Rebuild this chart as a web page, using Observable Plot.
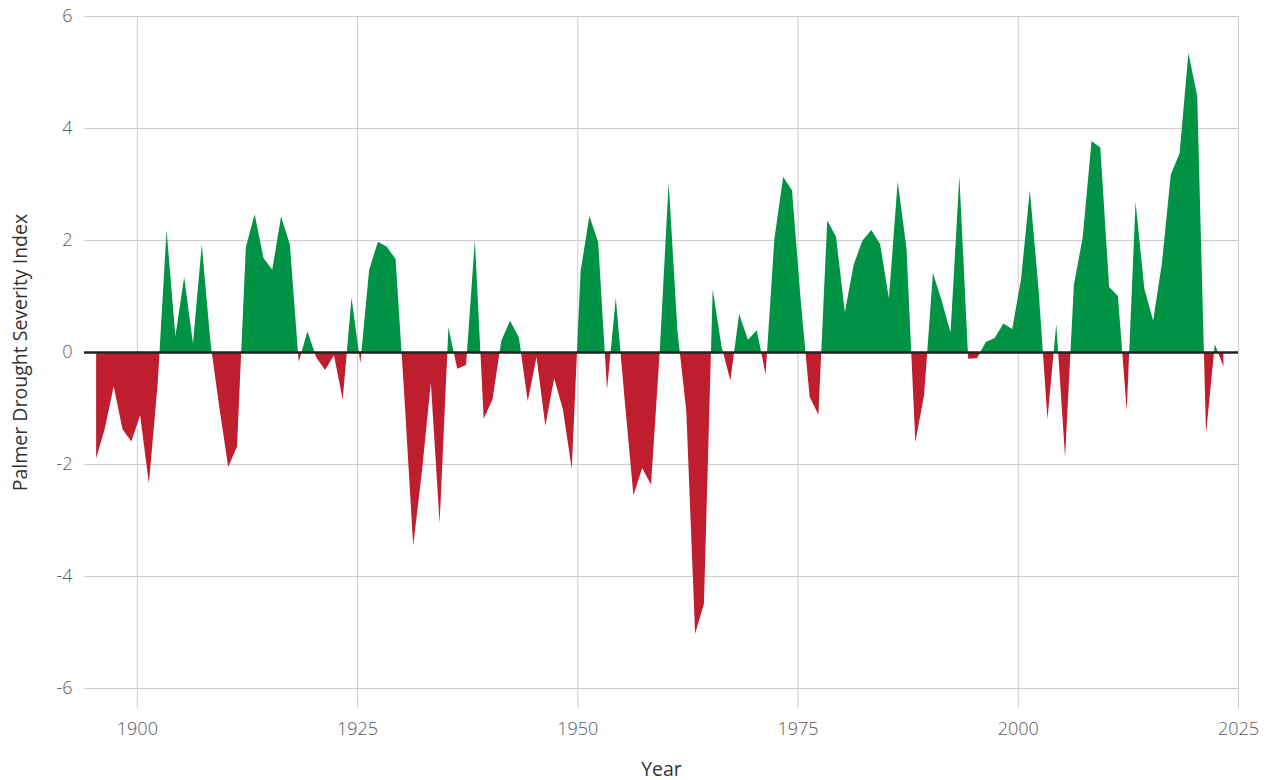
<!DOCTYPE html>
<html>
<head>
<meta charset="utf-8">
<script src="https://cdn.jsdelivr.net/npm/d3@7"></script>
<script src="https://cdn.jsdelivr.net/npm/@observablehq/plot@0.6"></script>
<style>
  html, body { margin: 0; padding: 0; background: #fff; }
  #chart svg { display: block; }
  #chart g[aria-label$="tick label"] text { font-weight: 300; }
</style>
</head>
<body>
<div id="chart"></div>
<script>
const startYear = 1895;
const pdsi = [
  -1.90, -1.36, -0.61, -1.38, -1.60, -1.13, -2.35, -0.55, 2.18, 0.28,
  1.34, 0.15, 1.92, 0.15, -1.00, -2.05, -1.69, 1.87, 2.46, 1.68,
  1.47, 2.42, 1.92, -0.18, 0.37, -0.10, -0.32, -0.06, -0.85, 0.97,
  -0.20, 1.47, 1.97, 1.88, 1.66, -0.80, -3.46, -2.12, -0.55, -3.06,
  0.44, -0.30, -0.23, 2.00, -1.19, -0.85, 0.20, 0.56, 0.26, -0.88,
  -0.09, -1.32, -0.47, -1.03, -2.09, 1.44, 2.43, 1.96, -0.67, 0.97,
  -0.85, -2.56, -2.07, -2.37, 0.05, 3.03, 0.37, -1.05, -5.03, -4.50,
  1.12, 0.10, -0.51, 0.68, 0.22, 0.39, -0.40, 2.02, 3.13, 2.89,
  0.90, -0.80, -1.12, 2.35, 2.06, 0.71, 1.56, 1.99, 2.18, 1.93,
  0.96, 3.05, 1.85, -1.61, -0.76, 1.41, 0.91, 0.35, 3.14, -0.12,
  -0.11, 0.18, 0.25, 0.51, 0.41, 1.30, 2.89, 1.10, -1.20, 0.50,
  -1.88, 1.20, 2.05, 3.77, 3.65, 1.16, 1.00, -1.05, 2.68, 1.13,
  0.56, 1.60, 3.17, 3.55, 5.34, 4.57, -1.46, 0.14, -0.27
];
const years = pdsi.map((_, i) => startYear + i);
const xTicks = [1900, 1925, 1950, 1975, 2000, 2025];
const yTicks = [-6, -4, -2, 0, 2, 4, 6];
const xTitle = "Year";
const yTitle = "Palmer Drought Severity Index";

const data = years.map((year, i) => ({year, value: pdsi[i]}));

// readings are plotted part-way into each year (mid-May)
const withinYear = 0.37;

const positiveColor = "#009245";
const negativeColor = "#be1e2d";
const gridColor = "#cccccc";

const areaMark = Plot.differenceY
  ? Plot.differenceY(data, {
      x: d => d.year + withinYear, y: "value",
      positiveFill: positiveColor, negativeFill: negativeColor,
      positiveFillOpacity: 1, negativeFillOpacity: 1,
      stroke: "none"
    })
  : Plot.areaY(data, {x: d => d.year + withinYear, y: "value", fill: positiveColor});

const chart = Plot.plot({
  width: 1270,
  height: 780,
  marginLeft: 84,
  marginRight: 32,
  marginTop: 16,
  marginBottom: 92,
  style: {fontFamily: "'Open Sans', 'Noto Sans', sans-serif", fontSize: "18px", color: "#595959", background: "#fff"},
  x: {domain: [1894, 2025], label: null},
  y: {domain: [-6, 6], label: null},
  marks: [
    Plot.gridY(yTicks, {stroke: gridColor, strokeOpacity: 1, strokeWidth: 1}),
    Plot.gridX(xTicks, {stroke: gridColor, strokeOpacity: 1, strokeWidth: 1}),
    areaMark,
    Plot.ruleY([0], {stroke: "#222", strokeWidth: 2.5}),
    Plot.axisX(xTicks, {tickSize: 20, tickPadding: 14, stroke: gridColor, strokeOpacity: 1, tickFormat: d => String(d), label: null}),
    Plot.axisY(yTicks, {tickSize: 0, tickPadding: 12, tickFormat: d => String(d), label: null}),
    Plot.text([xTitle], {frameAnchor: "bottom", dy: 87, lineAnchor: "bottom", textAnchor: "middle", fill: "#333", fontSize: 19.5, text: d => d}),
    Plot.text([yTitle], {frameAnchor: "left", dx: -64, rotate: -90, lineAnchor: "middle", textAnchor: "middle", fill: "#333", fontSize: 19.5, text: d => d})
  ]
});
document.getElementById("chart").appendChild(chart);
</script>
</body>
</html>
